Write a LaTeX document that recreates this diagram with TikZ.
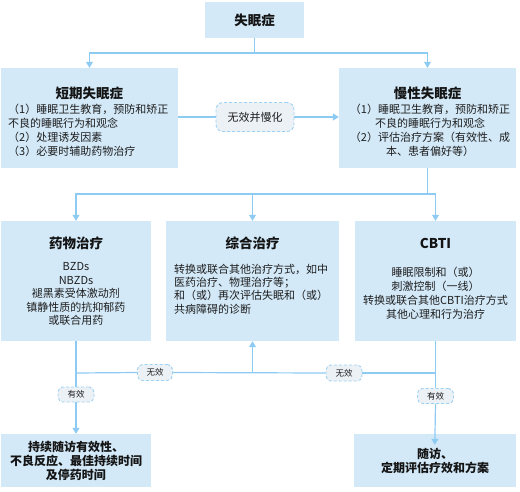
\documentclass[tikz,border=0pt]{standalone}
\usepackage{fontspec}
\setmainfont{Noto Sans CJK SC}
\usetikzlibrary{arrows.meta}
\definecolor{boxfill}{HTML}{D3E9F8}
\definecolor{linec}{HTML}{8ECBF3}
\definecolor{lblfill}{HTML}{ECF1F6}
\definecolor{lbldraw}{HTML}{9ED1F3}
\definecolor{txt}{HTML}{141414}
\definecolor{bodytxt}{HTML}{1E1E1E}
\tikzset{
  box/.style={fill=boxfill, draw=none, inner sep=0pt},
  ttl/.style={font=\fontsize{13.5}{16}\selectfont\bfseries, text=txt, inner sep=0pt},
  bodytext/.style={font=\fontsize{11}{14}\selectfont, text=bodytxt, inner sep=0pt},
  lbl/.style={fill=lblfill, draw=lbldraw, dashed, dash pattern=on 3pt off 2pt, line width=0.9pt, rounded corners=7pt, inner sep=0pt, text=bodytxt},
  ln/.style={draw=linec, line width=1.2pt},
  arr/.style={ln, -{Triangle[length=6pt,width=7pt]}},
}
\begin{document}
\begin{tikzpicture}[x=1pt,y=-1pt]
\useasboundingbox (0,0) rectangle (520,491);
% boxes
\node[box, minimum width=99pt, minimum height=36pt, font=\fontsize{13.5}{16}\selectfont\bfseries, text=txt] (top) at (254.5,20) {失眠症};
\node[box, minimum width=177pt, minimum height=100pt] (st) at (89.5,118) {};
\node[box, minimum width=177pt, minimum height=100pt] (lt) at (427.5,118) {};
\node[ttl] (stt) at (89.5,93) {短期失眠症};
\node[bodytext, anchor=north west, align=left] (stb) at (8,103.5) {（1）睡眠卫生教育，预防和矫正\\不良的睡眠行为和观念\\（2）处理诱发因素\\（3）必要时辅助药物治疗};
\node[ttl] (ltt) at (427.5,93) {慢性失眠症};
\node[bodytext, anchor=north, align=center] (ltb) at (430,103.5) {（1）睡眠卫生教育，预防和矫正\\不良的睡眠行为和观念\\（2）评估治疗方案（有效性、成\\本、患者偏好等）};
\node[lbl, minimum width=78pt, minimum height=29pt, font=\fontsize{11}{13}\selectfont] (mid) at (255,117) {无效并慢化};

\node[box, minimum width=150pt, minimum height=120pt] (drug) at (76,281) {};
\node[box, minimum width=173pt, minimum height=120pt] (comp) at (252.5,281) {};
\node[box, minimum width=161pt, minimum height=120pt] (cbti) at (435.5,281) {};
\node[ttl] (drugt) at (76,243) {药物治疗};
\node[ttl] (compt) at (252.5,243) {综合治疗};
\node[ttl] (cbtit) at (435.5,243) {CBTI};
\node[bodytext, anchor=north, align=center, font=\fontsize{11}{13.5}\selectfont] (drugb) at (76,262.5) {BZDs\\NBZDs\\褪黑素受体激动剂\\镇静性质的抗抑郁药\\或联合用药};
\node[bodytext, anchor=north west, align=left, font=\fontsize{11}{13.4}\selectfont] (compb) at (174,263.5) {转换或联合其他治疗方式，如中\\医药治疗、物理治疗等；\\和（或）再次评估失眠和（或）\\共病障碍的诊断};
\node[bodytext, anchor=north, align=center] (cbtib) at (435.5,266.5) {睡眠限制和（或）\\刺激控制（一线）\\转换或联合其他CBTI治疗方式\\其他心理和行为治疗};

\node[box, minimum width=150pt, minimum height=53pt, align=center, font=\fontsize{12}{14}\selectfont\bfseries, text=txt] (bl) at (76,460.5) {持续随访有效性、\\不良反应、最佳持续时间\\及停药时间};
\node[box, minimum width=162pt, minimum height=53pt, align=center, font=\fontsize{12}{14}\selectfont\bfseries, text=txt] (rb) at (435,460.5) {随访、\\定期评估疗效和方案};

% labels
\node[lbl, minimum width=35pt, minimum height=16pt, rounded corners=5pt, font=\fontsize{8.5}{10}\selectfont] (wx1) at (155,372.5) {无效};
\node[lbl, minimum width=36pt, minimum height=16pt, rounded corners=5pt, font=\fontsize{8.5}{10}\selectfont] (wx2) at (344,373) {无效};
\node[lbl, minimum width=36pt, minimum height=15pt, rounded corners=5pt, font=\fontsize{8.5}{10}\selectfont] (yx1) at (76,394.5) {有效};
\node[lbl, minimum width=36pt, minimum height=15pt, rounded corners=5pt, font=\fontsize{8.5}{10}\selectfont] (yx2) at (435.5,396) {有效};

% connectors
\coordinate (j1) at (254.5,53);
\draw[ln] (top.south) -- (j1);
\draw[arr] (j1) -| (st.north);
\draw[arr] (j1) -| (lt.north);
\draw[ln] (st.east |- mid) -- (mid.west);
\draw[arr] (mid.east) -- (lt.west |- mid);

\coordinate (j2) at (427.5,194);
\draw[ln] (lt.south) -- (j2);
\draw[arr] (j2) -| (drug.north);
\draw[arr] (j2) -| (cbti.north);
\draw[arr] (comp.north |- j2) -- (comp.north);

\coordinate (j3) at (76,373);
\coordinate (j4) at (435.5,373);
\draw[ln] (drug.south) -- (yx1.north);
\draw[arr] (yx1.south) -- (bl.north);
\draw[ln] (j3) -- (wx1.west);
\draw[ln] (wx1.east) -- (wx2.west);
\draw[ln] (wx2.east) -- (j4);
\draw[arr] (comp.south |- j3) -- (comp.south);
\draw[ln] (cbti.south) -- (yx2.north);
\draw[arr, shorten >=-11pt] (yx2.south) -- (rb.north);
\end{tikzpicture}
\end{document}
